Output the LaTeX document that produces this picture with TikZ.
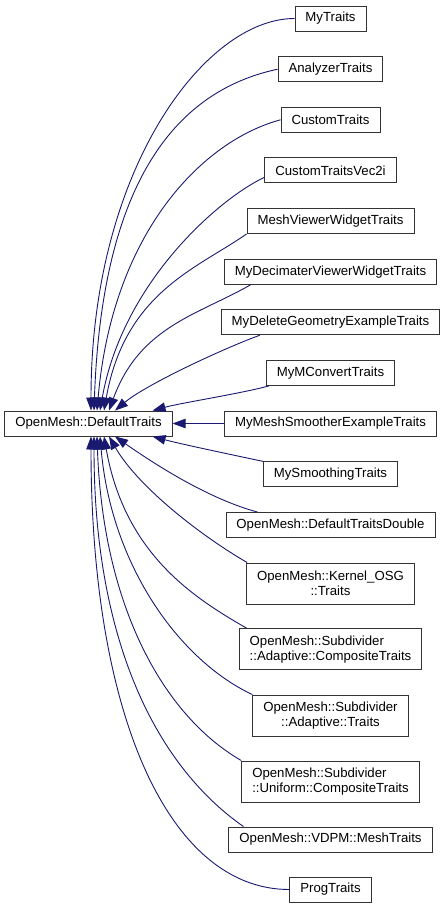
\documentclass[tikz,border=0pt]{standalone}
\usepackage{fontspec}
\setmainfont{Liberation Sans}
\usetikzlibrary{arrows.meta}
\definecolor{edgeblue}{HTML}{191970}

\begin{document}
\begin{tikzpicture}[x=1pt,y=-1pt,
  cls/.style={draw=black!80,line width=0.9pt,fill=white,inner xsep=10.5pt,inner ysep=2pt,minimum height=25pt,font=\fontsize{13.2pt}{15pt}\selectfont},
  cls2/.style={cls,minimum height=41pt},
  dep/.style={draw=edgeblue,line width=0.9pt,-{Triangle[length=13pt,width=9.5pt]}}]
\useasboundingbox (0,0) rectangle (445,908);
% base class
\node[cls] (dt) at (88.5,423.5) {OpenMesh::DefaultTraits};
% derived classes
\node[cls] (mytraits) at (330.5,18.5) {MyTraits};
\node[cls] (analyzer) at (330.5,69.2) {AnalyzerTraits};
\node[cls] (custom) at (330.5,119.8) {CustomTraits};
\node[cls] (vectwoi) at (330.5,170.4) {CustomTraitsVec2i};
\node[cls] (meshviewer) at (330.5,221) {MeshViewerWidgetTraits};
\node[cls] (decimater) at (330.5,271.7) {MyDecimaterViewerWidgetTraits};
\node[cls] (delgeom) at (330.5,322.3) {MyDeleteGeometryExampleTraits};
\node[cls] (mconvert) at (330.5,373) {MyMConvertTraits};
\node[cls] (smoother) at (330.5,423.5) {MyMeshSmootherExampleTraits};
\node[cls] (smoothing) at (330.5,474.3) {MySmoothingTraits};
\node[cls] (dtdouble) at (330.5,525) {OpenMesh::DefaultTraitsDouble};
\node[cls2,align=center] (kernel) at (330.5,583.5) {OpenMesh::Kernel\_OSG\\::Traits};
\node[cls2,align=left] (adcomp) at (330.5,649.2) {OpenMesh::Subdivider\\::Adaptive::CompositeTraits};
\node[cls2,align=center] (adtraits) at (330.5,715.5) {OpenMesh::Subdivider\\::Adaptive::Traits};
\node[cls2,align=left] (unicomp) at (330.5,781.5) {OpenMesh::Subdivider\\::Uniform::CompositeTraits};
\node[cls] (vdpm) at (330.5,839.5) {OpenMesh::VDPM::MeshTraits};
\node[cls] (prog) at (330.5,889.5) {ProgTraits};
% inheritance arrows, upper half
\draw[dep] (mytraits.west) to[out=180,in=90,out distance=90pt,in distance=240pt] ([xshift=2.5pt]dt.north);
\draw[dep] (analyzer.west) to[out=192,in=88,out distance=110pt,in distance=220pt] ([xshift=5.5pt]dt.north);
\draw[dep] (custom.west) to[out=195,in=85,out distance=80pt,in distance=180pt] ([xshift=8.5pt]dt.north);
\draw[dep] (vectwoi.186) to[out=205,in=80,out distance=50pt,in distance=130pt] ([xshift=11.5pt]dt.north);
\draw[dep] (meshviewer.south west) to[out=215,in=80,out distance=60pt,in distance=120pt] ([xshift=15.5pt]dt.north);
\draw[dep] ([xshift=27pt]decimater.south west) to[out=210,in=70,out distance=60pt,in distance=90pt] ([xshift=20.5pt]dt.north);
\draw[dep] ([xshift=39pt]delgeom.south west) to[out=200,in=40,out distance=40pt,in distance=40pt] ([xshift=26.5pt]dt.north);
\draw[dep] ([xshift=3pt]mconvert.south west) to[out=195,in=15,out distance=30pt,in distance=30pt] ([xshift=-20pt]dt.north east);
\draw[dep] (smoother.west) -- (dt.east);
% inheritance arrows, lower half
\draw[dep] (smoothing.north west) to[out=168,in=345,out distance=30pt,in distance=30pt] ([xshift=-20pt]dt.south east);
\draw[dep] ([xshift=32pt]dtdouble.north west) to[out=165,in=325,out distance=50pt,in distance=50pt] ([xshift=26.5pt]dt.south);
\draw[dep] ([xshift=1pt]kernel.north west) to[out=150,in=300,out distance=50pt,in distance=60pt] ([xshift=20.5pt]dt.south);
\draw[dep] ([xshift=8pt]adcomp.north west) to[out=150,in=280,out distance=60pt,in distance=120pt] ([xshift=15.5pt]dt.south);
\draw[dep] (adtraits.north west) to[out=155,in=275,out distance=80pt,in distance=130pt] ([xshift=11.5pt]dt.south);
\draw[dep] (unicomp.north west) to[out=150,in=272,out distance=90pt,in distance=170pt] ([xshift=8.5pt]dt.south);
\draw[dep] ([xshift=15pt]vdpm.north west) to[out=145,in=270,out distance=110pt,in distance=200pt] ([xshift=5.5pt]dt.south);
\draw[dep] (prog.west) to[out=180,in=270,out distance=120pt,in distance=280pt] ([xshift=2.5pt]dt.south);
\end{tikzpicture}
\end{document}
